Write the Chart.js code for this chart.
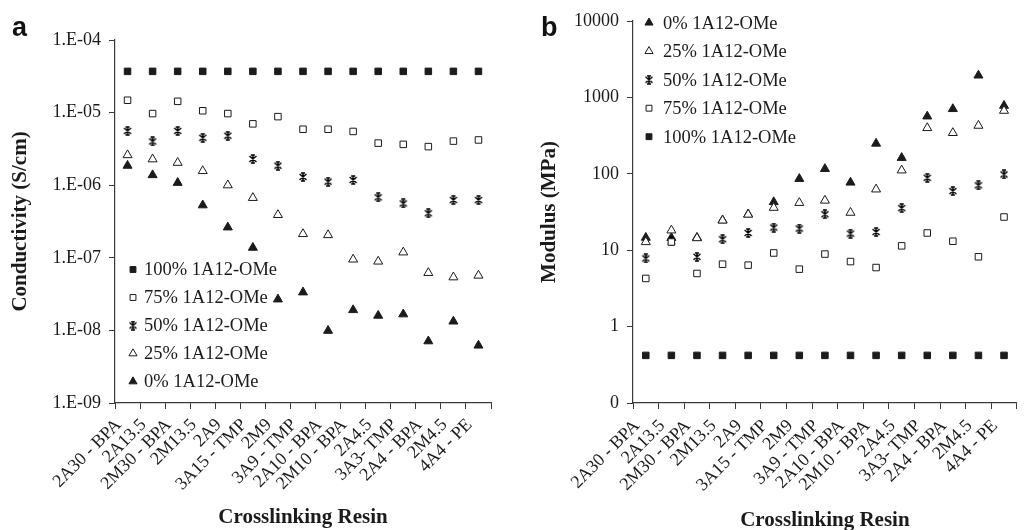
<!DOCTYPE html>
<html>
<head>
<meta charset="utf-8">
<script src="https://cdn.jsdelivr.net/npm/chart.js@4.4.1/dist/chart.umd.min.js"></script>
<style>
  html, body { margin: 0; padding: 0; background: #fff; }
  #wrap { position: relative; width: 1026px; height: 530px; overflow: hidden; }
  .panel { position: absolute; top: 0; }
  .tag { position: absolute; font: bold 27px "Liberation Sans", Arial, sans-serif; color: #111; }
</style>
</head>
<body>
<div id="wrap">
  <div class="panel" style="left:0"><canvas id="cond" width="510" height="530"></canvas></div>
  <div class="panel" style="left:510px"><canvas id="mod" width="516" height="530"></canvas></div>
  <div class="tag" style="left:12px;top:12px">a</div>
  <div class="tag" style="left:541px;top:12px">b</div>
</div>
<script>
// Crosslinking resins (x categories, same for both panels)
const RESINS = ['2A30 - BPA', '2A13.5', '2M30 - BPA', '2M13.5', '2A9', '3A15 - TMP', '2M9',
  '3A9 - TMP', '2A10 - BPA', '2M10 - BPA', '2A4.5', '3A3- TMP', '2A4 - BPA', '2M4.5', '4A4 - PE'];

const SERIES_NAMES = ['100% 1A12-OMe', '75% 1A12-OMe', '50% 1A12-OMe', '25% 1A12-OMe', '0% 1A12-OMe'];

// Conductivity, S/cm
const COND_100 = [3.7e-5, 3.7e-5, 3.7e-5, 3.7e-5, 3.7e-5, 3.7e-5, 3.7e-5, 3.7e-5, 3.7e-5, 3.7e-5, 3.7e-5, 3.7e-5, 3.7e-5, 3.7e-5, 3.7e-5];
const COND_75 = [1.48e-5, 9.7e-6, 1.43e-5, 1.06e-5, 9.7e-6, 7.0e-6, 8.8e-6, 5.9e-6, 5.9e-6, 5.5e-6, 3.8e-6, 3.65e-6, 3.4e-6, 4.05e-6, 4.2e-6];
const COND_50 = [5.6e-6, 4.0e-6, 5.6e-6, 4.5e-6, 4.8e-6, 2.3e-6, 1.86e-6, 1.3e-6, 1.12e-6, 1.18e-6, 6.8e-7, 5.6e-7, 4.1e-7, 6.25e-7, 6.25e-7];
const COND_25 = [2.6e-6, 2.28e-6, 2.04e-6, 1.57e-6, 1.0e-6, 6.7e-7, 3.9e-7, 2.13e-7, 2.06e-7, 9.5e-8, 8.9e-8, 1.19e-7, 6.2e-8, 5.4e-8, 5.7e-8];
const COND_0 = [1.86e-6, 1.38e-6, 1.08e-6, 5.3e-7, 2.63e-7, 1.38e-7, 2.68e-8, 3.35e-8, 9.9e-9, 1.91e-8, 1.6e-8, 1.67e-8, 7.1e-9, 1.33e-8, 6.2e-9];
const COND_TICKS = [1e-9, 1e-8, 1e-7, 1e-6, 1e-5, 1e-4];

// Modulus, MPa
const MOD_0 = [14.6, 14.5, 14.6, 24.7, 29.5, 42.7, 86, 116, 77, 249, 162, 565, 706, 1940, 780];
const MOD_25 = [12.8, 18.2, 14.4, 24.5, 29.3, 36, 41.7, 44.7, 31, 62.6, 111, 398, 343, 427, 670];
const MOD_50 = [7.8, 13.0, 8.2, 13.9, 16.8, 19.8, 19.2, 29.5, 16.5, 17.3, 35.5, 88.7, 59.4, 70.6, 98];
const MOD_75 = [4.27, 12.8, 4.96, 6.56, 6.37, 9.2, 5.65, 8.9, 7.1, 5.93, 11.4, 16.8, 13.1, 8.2, 27.2];
const MOD_100 = [0.42, 0.42, 0.42, 0.42, 0.42, 0.42, 0.42, 0.42, 0.42, 0.42, 0.42, 0.42, 0.42, 0.42, 0.42];
const MOD_TICKS = [0.1, 1, 10, 100, 1000, 10000];

const INK = '#1b1b1b';
const AXIS = '#3a3a3a';
const SERIF = '"Liberation Serif", "Times New Roman", serif';

// asterisk marker: vertical bar, two diagonals, small caps top and bottom
function makeStar() {
  const c = document.createElement('canvas');
  c.width = 10; c.height = 10;
  const g = c.getContext('2d');
  g.strokeStyle = '#000'; g.lineWidth = 1.5;
  g.beginPath();
  g.moveTo(5, 1); g.lineTo(5, 9);
  g.moveTo(1.5, 2); g.lineTo(8.5, 8);
  g.moveTo(8.5, 2); g.lineTo(1.5, 8);
  g.moveTo(3, 1); g.lineTo(7, 1);
  g.moveTo(3, 9); g.lineTo(7, 9);
  g.stroke();
  return c;
}
const STAR = makeStar();

const MARKERS = [
  { pointStyle: 'rect', pointRadius: 4.6, pointBackgroundColor: INK, pointBorderColor: INK, pointBorderWidth: 1 },
  { pointStyle: 'rect', pointRadius: 4.6, pointBackgroundColor: '#fff', pointBorderColor: INK, pointBorderWidth: 1 },
  { pointStyle: STAR, pointRadius: 5, pointBackgroundColor: INK, pointBorderColor: INK, pointBorderWidth: 1 },
  { pointStyle: 'triangle', pointRadius: 5.2, pointBackgroundColor: '#fff', pointBorderColor: INK, pointBorderWidth: 1 },
  { pointStyle: 'triangle', pointRadius: 5.2, pointBackgroundColor: INK, pointBorderColor: INK, pointBorderWidth: 1 }
];

function makeDatasets(values) {
  return values.map((v, i) => Object.assign({
    label: SERIES_NAMES[i], data: v, showLine: false, pointHoverRadius: 5
  }, MARKERS[i]));
}

// legend drawn inside the plot area as a plain column of marker + label
const pointLegend = {
  id: 'pointLegend',
  afterDraw(chart, args, opts) {
    const ctx = chart.ctx;
    ctx.save();
    ctx.font = '18.5px ' + SERIF;
    ctx.textBaseline = 'middle';
    opts.order.forEach((idx, row) => {
      const ds = chart.data.datasets[idx];
      const y = opts.y + row * opts.gap;
      ctx.fillStyle = ds.pointBackgroundColor;
      ctx.strokeStyle = ds.pointBorderColor;
      ctx.lineWidth = ds.pointBorderWidth;
      Chart.helpers.drawPoint(ctx, {
        pointStyle: ds.pointStyle, radius: ds.pointRadius * 0.9,
        borderWidth: ds.pointBorderWidth, rotation: 0
      }, opts.x, y);
      ctx.fillStyle = INK;
      ctx.fillText(ds.label, opts.x + opts.textGap, y + 1);
    });
    ctx.restore();
  }
};

function sciLabel(v) {
  const e = Math.round(Math.log10(v));
  return '1.E' + (e < 0 ? '-' : '+') + String(Math.abs(e)).padStart(2, '0');
}

function buildChart(id, cfg) {
  return new Chart(document.getElementById(id), {
    type: 'line',
    data: { labels: RESINS, datasets: makeDatasets(cfg.values) },
    plugins: [pointLegend],
    options: {
      responsive: false,
      animation: false,
      devicePixelRatio: 1,
      layout: { padding: cfg.padding },
      plugins: {
        legend: { display: false },
        tooltip: { enabled: false },
        pointLegend: cfg.legend
      },
      scales: {
        x: {
          type: 'category',
          offset: true,
          afterFit: s => { s.height = cfg.xHeight; },
          grid: { display: true, offset: true, drawOnChartArea: false, drawTicks: true, tickLength: 6, color: AXIS },
          border: { display: true, color: AXIS, width: 1.2 },
          ticks: { color: INK, font: { family: SERIF, size: 18 }, minRotation: 45, maxRotation: 45, autoSkip: false, padding: cfg.xTickPad, labelOffset: -9 },
          title: { display: true, text: 'Crosslinking Resin', color: INK, font: { family: SERIF, size: 21, weight: 'bold' }, padding: { top: 0, bottom: cfg.xTitlePad } }
        },
        y: {
          type: 'logarithmic',
          min: cfg.ticks[0],
          max: cfg.ticks[cfg.ticks.length - 1],
          afterFit: s => { s.width = cfg.yWidth; },
          afterBuildTicks: s => { s.ticks = cfg.ticks.map(v => ({ value: v })); },
          grid: { display: true, drawOnChartArea: false, drawTicks: true, tickLength: 6, color: AXIS },
          border: { display: true, color: AXIS, width: 1.2 },
          ticks: { color: INK, font: { family: SERIF, size: 18 }, padding: 8, callback: cfg.tickFormat },
          title: { display: true, text: cfg.yTitle, color: INK, font: { family: SERIF, size: 21, weight: 'bold' }, padding: { top: cfg.yTitlePad, bottom: 0 } }
        }
      }
    }
  });
}

buildChart('cond', {
  values: [COND_100, COND_75, COND_50, COND_25, COND_0],
  ticks: COND_TICKS,
  tickFormat: v => sciLabel(v),
  yTitle: 'Conductivity (S/cm)',
  padding: { top: 40, right: 19, left: 0, bottom: 0 },
  yWidth: 115, xHeight: 127, xTitlePad: 0, xTickPad: 5.5, yTitlePad: 8,
  legend: { order: [0, 1, 2, 3, 4], x: 133, y: 269.5, gap: 28, textGap: 11 }
});

buildChart('mod', {
  values: [MOD_100, MOD_75, MOD_50, MOD_25, MOD_0],
  ticks: MOD_TICKS,
  tickFormat: v => String(Math.round(v)),
  yTitle: 'Modulus (MPa)',
  padding: { top: 21, right: 1, left: 0, bottom: 0 },
  yWidth: 123, xHeight: 127, xTitlePad: -3, xTickPad: 6.5, yTitlePad: 27,
  legend: { order: [4, 3, 2, 1, 0], x: 139, y: 22.7, gap: 28.5, textGap: 14 }
});
</script>
</body>
</html>
